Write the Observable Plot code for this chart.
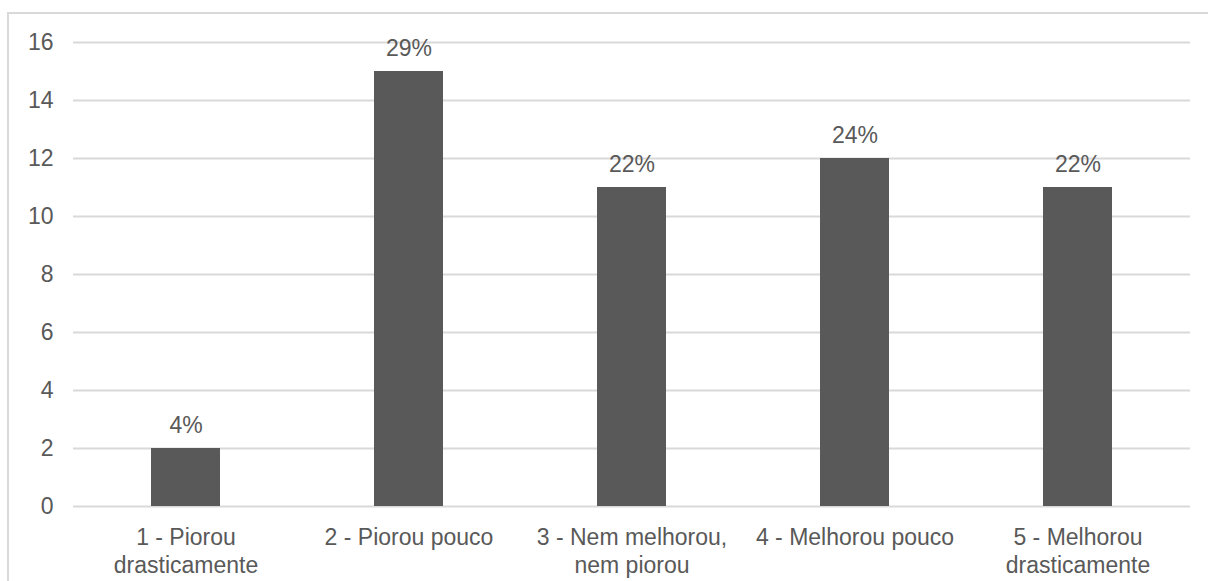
<!DOCTYPE html>
<html>
<head>
<meta charset="utf-8">
<script src="https://cdn.jsdelivr.net/npm/d3@7"></script>
<script src="https://cdn.jsdelivr.net/npm/@observablehq/plot@0.6"></script>
<style>
  html, body { margin: 0; padding: 0; background: #fff; overflow: hidden; }
  #wrap { position: relative; width: 1208px; height: 581px; }
  #frame { position: absolute; left: 7px; top: 12px; width: 1400px; height: 800px;
           border-left: 2px solid #d9d9d9; border-top: 2px solid #d9d9d9; pointer-events: none; }
  svg { display: block; }
</style>
</head>
<body>
<div id="wrap"><div id="frame"></div></div>
<script>
const categories = [
  "1 - Piorou drasticamente",
  "2 - Piorou pouco",
  "3 - Nem melhorou, nem piorou",
  "4 - Melhorou pouco",
  "5 - Melhorou drasticamente"
];
const tickLabels = [
  "1 - Piorou\ndrasticamente",
  "2 - Piorou pouco",
  "3 - Nem melhorou,\nnem piorou",
  "4 - Melhorou pouco",
  "5 - Melhorou\ndrasticamente"
];
const counts = [2, 15, 11, 12, 11];
const percentLabels = ["4%", "29%", "22%", "24%", "22%"];
const yTicks = [0, 2, 4, 6, 8, 10, 12, 14, 16];

const data = categories.map((c, i) => ({cat: c, value: counts[i], pct: percentLabels[i]}));
const labelOf = new Map(categories.map((c, i) => [c, tickLabels[i]]));

const font = "'Liberation Sans', Arial, sans-serif";
const txt = "#595959";

const chart = Plot.plot({
  width: 1208,
  height: 581,
  marginLeft: 73,
  marginRight: 18,
  marginTop: 42,
  marginBottom: 75,
  style: {fontFamily: font, background: "transparent", color: txt},
  x: {domain: categories, paddingInner: 0.69, paddingOuter: 0.345, label: null},
  y: {domain: [0, 16], label: null},
  marks: [
    Plot.gridY(yTicks, {stroke: "#d9d9d9", strokeOpacity: 1, strokeWidth: 2}),
    Plot.barY(data, {x: "cat", y: "value", fill: "#595959"}),
    Plot.text(data, {x: "cat", y: "value", text: "pct", dy: -16, lineAnchor: "bottom",
                     fontSize: 23, fill: txt}),
    Plot.axisY({ticks: yTicks, tickSize: 0, tickPadding: 20, fontSize: 23, fill: txt, label: null}),
    Plot.axisX({tickSize: 0, tickPadding: 19, fontSize: 23, fill: txt, lineHeight: 1.2,
                tickFormat: d => labelOf.get(d), label: null})
  ]
});
document.getElementById("wrap").insertBefore(chart, document.getElementById("frame"));
chart.style.position = "absolute";
chart.style.left = "0";
chart.style.top = "0";
</script>
</body>
</html>
